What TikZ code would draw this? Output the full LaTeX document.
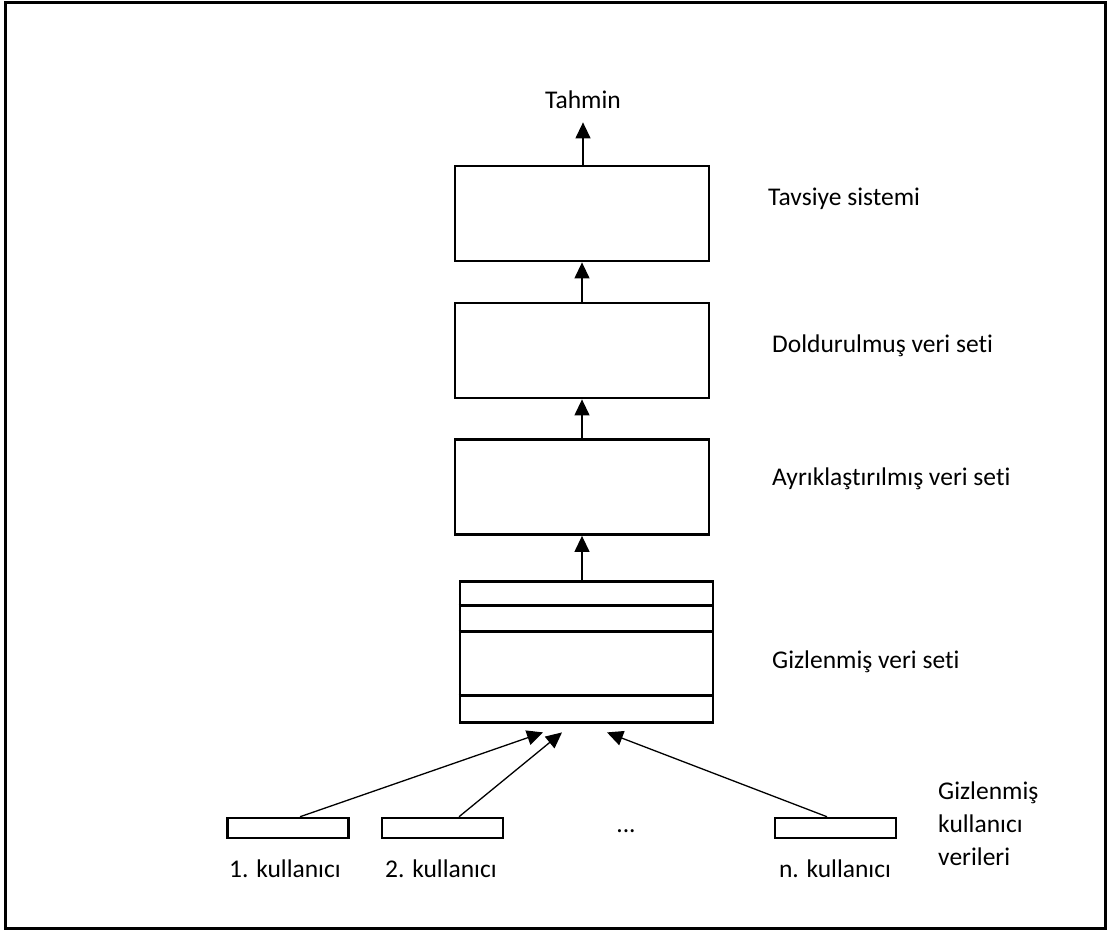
\documentclass[tikz,border=0pt]{standalone}
\usepackage{fontspec}
\setmainfont{Carlito}[Ligatures=NoCommon]
\usepackage{tikz}
\usetikzlibrary{arrows.meta}

\begin{document}
\begin{tikzpicture}[x=1pt,y=-1pt,
  katman/.style={draw,line width=2.8pt,minimum width=254pt,minimum height=95pt,inner sep=0pt},
  kullanici/.style={draw,line width=2.5pt,minimum width=121pt,minimum height=20pt,inner sep=0pt},
  yazi/.style={inner sep=0pt,font=\fontsize{25.5}{33}\selectfont},
  ok/.style={line width=1.3pt,-{Triangle[length=16pt,width=15pt]}}]
\useasboundingbox (0,0) rectangle (1110,933);
\draw[line width=3pt] (5,3) rectangle (1105,928);
% katmanlar
\node[katman] (kutu1) at (582,213.5) {};
\node[katman] (kutu2) at (582,350.5) {};
\node[katman] (kutu3) at (582,487) {};
\node[katman,minimum width=253pt,minimum height=141pt] (kutu4) at (586.5,652) {};
\foreach \h in {25,51,115}
  \draw[line width=2.8pt] ([yshift=-\h pt]kutu4.north west) -- ([yshift=-\h pt]kutu4.north east);
% kullanicilar
\node[kullanici] (k1) at (288,828) {};
\node[kullanici] (k2) at (442.5,828) {};
\node[kullanici] (kn) at (835.5,828) {};
\node[yazi,anchor=base] (nokta) at (626,832) {...};
% yazilar
\node[yazi,anchor=base] (tahmin) at (583,109) {Tahmin};
\node[yazi,anchor=base west] (l1) at (768,206) {Tavsiye sistemi};
\node[yazi,anchor=base west] (l2) at (772,352) {Doldurulmuş veri seti};
\node[yazi,anchor=base west] (l3) at (772,485) {Ayrıklaştırılmış veri seti};
\node[yazi,anchor=base west] (l4) at (772,668) {Gizlenmiş veri seti};
\node[yazi,anchor=base west,align=left] (l5) at (938,865) {Gizlenmiş\\kullanıcı\\verileri};
\node[yazi,anchor=base] (e1) at (285,877) {1. kullanıcı};
\node[yazi,anchor=base] (e2) at (441,877) {2. kullanıcı};
\node[yazi,anchor=base] (en) at (835,877) {n. kullanıcı};
% oklar
\draw[ok,shorten >=13pt] (kutu1.north -| tahmin.south) -- (tahmin.south);
\draw[ok] (kutu2.north) -- (kutu1.south);
\draw[ok] (kutu3.north) -- (kutu2.south);
\draw[ok] (kutu4.north -| kutu3.south) -- (kutu3.south);
\draw[ok] ([xshift=12pt]k1.north) -- ([xshift=-43.5pt,yshift=-8.5pt]kutu4.south);
\draw[ok] ([xshift=16.5pt]k2.north) -- ([xshift=-24.5pt,yshift=-8.5pt]kutu4.south);
\draw[ok] ([xshift=-8.5pt]kn.north) -- ([xshift=20.5pt,yshift=-8.5pt]kutu4.south);
\end{tikzpicture}
\end{document}
